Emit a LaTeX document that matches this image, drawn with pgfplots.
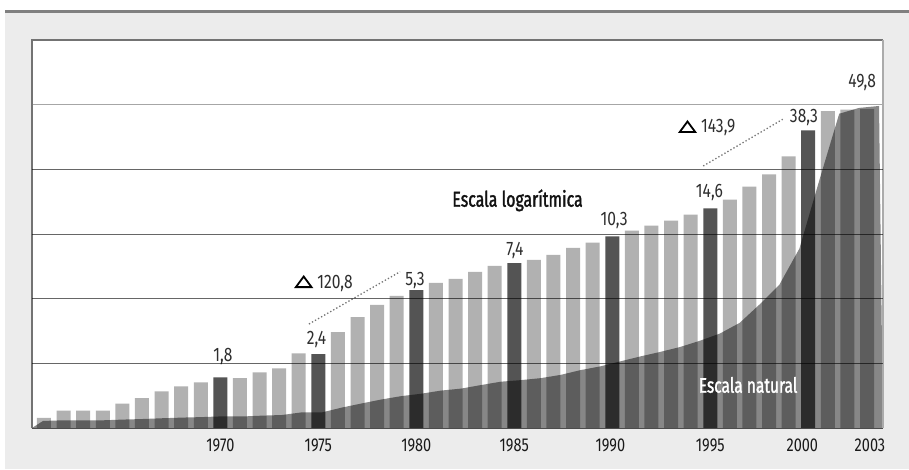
\documentclass[border=0pt]{standalone}
\usepackage{pgfplots}
\pgfplotsset{compat=1.18}
\usepackage{fontspec}
\setmainfont{Fira Sans}[FakeStretch=0.78]
\newfontfamily\vlab{Fira Sans}[FakeStretch=0.8]
\newfontfamily\semib{Fira Sans}[FakeStretch=0.74, FakeBold=1.5]
\definecolor{bgc}{HTML}{ECECEC}
\definecolor{lightbar}{HTML}{B1B1B1}
\definecolor{darkbar}{HTML}{545454}
\definecolor{topline}{HTML}{808080}
\definecolor{lab}{HTML}{2E2E2E}
\newcommand{\tri}{\tikz[baseline=0pt]\draw[line width=1.8pt, line join=miter, black] (0.9pt,0.9pt)--(16.5pt,0.9pt)--(8.7pt,11.5pt)--cycle;}
\begin{document}
\begin{tikzpicture}[x=1pt,y=1pt]
\useasboundingbox (0,0) rectangle (909,469);
\fill[white] (0,0) rectangle (909,469);
\fill[bgc] (5,0) rectangle (909,457);
\draw[topline, line width=2.7pt] (5,457.6) -- (909,457.6);

% ---- bars on the logarithmic scale
\begin{axis}[
  at={(32pt,41pt)}, anchor=south west, scale only axis,
  width=851pt, height=388pt,
  ymode=log, log origin=infty,
  ymin=0.96, ymax=117.4,
  xmin=1960.388, xmax=2003.816,
  axis line style={draw=none},
  axis background/.style={fill=white},
  ytick=\empty,
  xtick={1970,1975,1980,1985,1989.9,1995,1999.7,2003.15},
  xticklabels={1970,1975,1980,1985,1990,1995,2000,2003},
  major tick length=0pt,
  xticklabel style={font=\fontsize{18.6}{19}\selectfont, text=black!90, anchor=base, yshift=-23.5pt, inner sep=0pt},
  ybar, bar width=0.714, bar shift=0pt,
]
\addplot[fill=lightbar, draw=none] coordinates {
(1961,1.09) (1962,1.19) (1963,1.19) (1964,1.19) (1965,1.30) (1966,1.39)
(1967,1.51) (1968,1.61) (1969,1.69) (1971,1.78) (1972,1.91) (1973,2.01)
(1974,2.42) (1976,3.15) (1977,3.79) (1978,4.41) (1979,4.93) (1981,5.79)
(1982,6.09) (1983,6.64) (1984,7.16) (1986,7.71) (1987,8.21) (1988,8.95)
(1989,9.53) (1991,11.06) (1992,11.76) (1993,12.52) (1994,13.49) (1996,16.26)
(1997,19.11) (1998,22.19) (1999,27.75) (2001,48.6) (2002,49.5) (2003,49.8)
};
\addplot[fill=darkbar, draw=none] coordinates {
(1970,1.8) (1975,2.4) (1980,5.3) (1985,7.4) (1990,10.3) (1995,14.6) (2000,38.3)
};
\end{axis}

% ---- area on the natural scale, grid, labels
\begin{axis}[
  at={(32pt,41pt)}, anchor=south west, scale only axis,
  width=851pt, height=388pt,
  ymin=0, ymax=60, xmin=1960.447, xmax=2003.2,
  axis line style={draw=none},
  xtick=\empty, ytick={10,20,30,40}, yticklabel=\empty, major tick length=0pt,
  ymajorgrids, grid style={black, opacity=0.6, line width=0.9pt},
  axis on top, clip=false,
]
\addplot[fill=black, fill opacity=0.47, draw=none] coordinates {
(1960.447,0) (1961,1.09) (1962,1.19) (1963,1.19) (1964,1.19) (1965,1.30) (1966,1.39)
(1967,1.51) (1968,1.61) (1969,1.69) (1970,1.8) (1971,1.78) (1972,1.91) (1973,2.01)
(1974,2.42) (1975,2.4) (1976,3.15) (1977,3.79) (1978,4.41) (1979,4.93) (1980,5.3)
(1981,5.79) (1982,6.09) (1983,6.64) (1984,7.16) (1985,7.4) (1986,7.71) (1987,8.21)
(1988,8.95) (1989,9.53) (1990,10.3) (1991,11.06) (1992,11.76) (1993,12.52) (1994,13.49)
(1995,14.6) (1996,16.26) (1997,19.11) (1998,22.19) (1999,27.75) (2000,38.3)
(2001,48.6) (2002,49.5) (2003,49.8) (2003.2,0)
} \closedcycle;
\draw[black, opacity=0.35, line width=1pt] (axis cs:1960.447,50) -- (axis cs:2003.2,50);
% frame
\draw[black!55, line width=1.2pt] (rel axis cs:0,0) -- (rel axis cs:0,1) -- (rel axis cs:1,1);
\draw[black!33, line width=1.5pt] (rel axis cs:1,1) -- (rel axis cs:1,0);
\draw[black!70, line width=1pt] (rel axis cs:0,0) -- (rel axis cs:1,0);
% value labels
\begin{scope}[every node/.style={anchor=base, text=lab, inner sep=0pt, font=\vlab\fontsize{19.5}{20}\selectfont}]
\node at (axis cs:1970.04,10.21) {1,8};
\node at (axis cs:1974.74,12.94) {2,4};
\node at (axis cs:1979.69,22.11) {5,3};
\node at (axis cs:1984.71,26.75) {7,4};
\node at (axis cs:1989.69,31.24) {10,3};
\node at (axis cs:1994.48,35.61) {14,6};
\node at (axis cs:1999.23,47.30) {38,3};
\node at (axis cs:2002.15,52.58) {49,8};
\node at (axis cs:1975.11,21.65) {\tri\hspace{5pt}120,8};
\node at (axis cs:1994.36,45.62) {\tri\hspace{5pt}143,9};
\end{scope}
\draw[black!55, line width=1.3pt, dash pattern=on 1.3pt off 2.2pt] (axis cs:1974.36,16.08) -- (axis cs:1978.94,24.17);
\draw[black!55, line width=1.3pt, dash pattern=on 1.3pt off 2.2pt] (axis cs:1994.17,40.52) -- (axis cs:1998.16,47.74);
\node[anchor=base, inner sep=0pt, text=black!93, font=\semib\fontsize{21.5}{24}\selectfont] at (axis cs:1984.84,34.22) {Escala logarítmica};
\node[anchor=base, inner sep=0pt, text=white, font=\semib\fontsize{21}{24}\selectfont] at (axis cs:1996.42,5.46) {Escala natural};
\end{axis}
\end{tikzpicture}
\end{document}
